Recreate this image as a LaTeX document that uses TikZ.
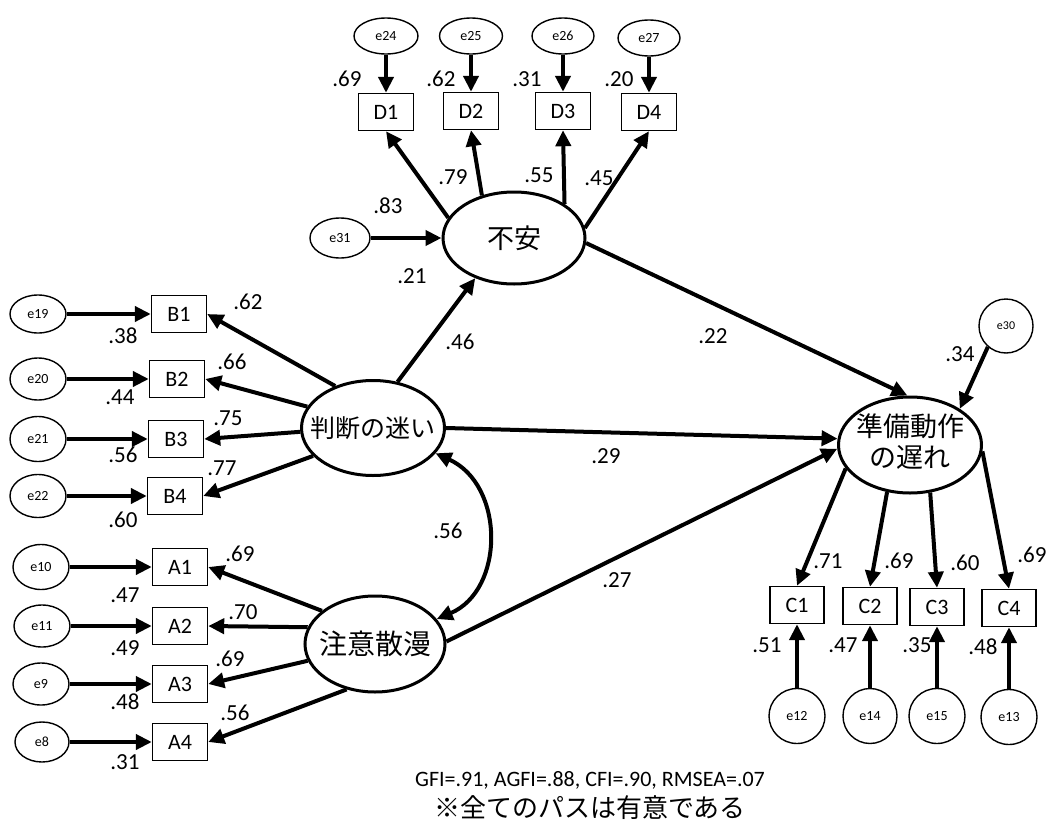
\documentclass[tikz,border=0pt]{standalone}
\usepackage{fontspec}
\setmainfont{Carlito}
\newfontfamily\jpfont{Noto Sans CJK JP}
\usetikzlibrary{shapes.geometric,arrows.meta}
\newcommand\zw[1]{\makebox[0pt]{#1}}

\begin{document}
\begin{tikzpicture}[x=1pt,y=-1pt,
  obsbox/.style={draw,line width=1.4pt,minimum width=55pt,minimum height=37pt,inner sep=0pt,font=\fontsize{22}{22}\selectfont},
  errnode/.style={ellipse,draw,line width=1.4pt,inner sep=0pt,minimum width=56pt,minimum height=40pt,font=\fontsize{14}{14}\selectfont},
  latent/.style={ellipse,draw,line width=3pt,inner sep=0pt},
  coef/.style={inner sep=0pt,font=\fontsize{23}{23}\selectfont},
  link/.style={line width=4pt,-{Triangle[length=16pt,width=15pt]}},
  twoway/.style={line width=4pt,{Triangle[length=16pt,width=15pt]}-{Triangle[length=16pt,width=15pt]}},
]
\useasboundingbox (0,0) rectangle (1050,830);

% ---------- latent variables ----------
\node[latent,minimum width=142pt,minimum height=92pt,font=\jpfont\fontsize{27}{27}\selectfont] (fuan) at (514,238) {\zw{不安}};
\node[latent,minimum width=143pt,minimum height=95pt,font=\jpfont\fontsize{25}{25}\selectfont] (handan) at (373,428) {\zw{判断の迷い}};
\node[latent,minimum width=140pt,minimum height=96pt,font=\jpfont\fontsize{28}{28}\selectfont] (chui) at (375,644) {\zw{注意散漫}};
\node[latent,minimum width=143pt,minimum height=96pt,font=\jpfont\fontsize{27}{31}\selectfont] (junbi) at (910,445)
  {\zw{\begin{tabular}{@{}c@{}}準備動作\\の遅れ\end{tabular}}};

% ---------- D indicators (top) ----------
\node[obsbox] (D1) at (386,112) {D1};
\node[obsbox] (D2) at (471,111) {D2};
\node[obsbox] (D3) at (563,111) {D3};
\node[obsbox] (D4) at (649,112) {D4};
\node[errnode,minimum width=64pt,minimum height=36pt] (e24) at (386,36) {e24};
\node[errnode,minimum width=63pt,minimum height=36pt] (e25) at (471,36) {e25};
\node[errnode,minimum width=62pt,minimum height=36pt] (e26) at (563,36) {e26};
\node[errnode,minimum width=62pt,minimum height=36pt] (e27) at (649,38) {e27};
\node[errnode,minimum width=60pt,minimum height=40pt] (e31) at (340,238) {e31};

% ---------- B indicators ----------
\node[obsbox] (B1) at (179,314) {B1};
\node[obsbox] (B2) at (177,379) {B2};
\node[obsbox] (B3) at (176,439) {B3};
\node[obsbox] (B4) at (175,496) {B4};
\node[errnode,minimum height=38pt] (e19) at (38,314) {e19};
\node[errnode,minimum height=42pt] (e20) at (38,379) {e20};
\node[errnode,minimum height=45pt] (e21) at (38,439) {e21};
\node[errnode,minimum height=43pt] (e22) at (38,496) {e22};

% ---------- A indicators ----------
\node[obsbox] (A1) at (180,567) {A1};
\node[obsbox] (A2) at (180,626) {A2};
\node[obsbox] (A3) at (180,684) {A3};
\node[obsbox] (A4) at (180,742) {A4};
\node[errnode,minimum height=45pt] (e10) at (41,567) {e10};
\node[errnode,minimum height=42pt] (e11) at (42,626) {e11};
\node[errnode,minimum height=42pt] (e9) at (41,684) {e9};
\node[errnode,minimum width=54pt,minimum height=40pt] (e8) at (42,742) {e8};

% ---------- C indicators ----------
\node[obsbox,minimum width=54pt] (C1) at (797,605) {C1};
\node[obsbox,minimum width=54pt] (C2) at (870,606) {C2};
\node[obsbox,minimum width=54pt] (C3) at (937,607) {C3};
\node[obsbox,minimum width=54pt] (C4) at (1009,608) {C4};
\node[errnode,minimum width=56pt,minimum height=55pt] (e12) at (797,716) {e12};
\node[errnode,minimum width=54pt,minimum height=55pt] (e14) at (870,716) {e14};
\node[errnode,minimum width=56pt,minimum height=55pt] (e15) at (937,716) {e15};
\node[errnode,minimum width=56pt,minimum height=55pt] (e13) at (1009,717) {e13};
\node[errnode,minimum width=54pt,minimum height=54pt,font=\fontsize{12}{12}\selectfont] (e30) at (1006,326) {e30};

% ---------- error paths ----------
\draw[link] (e24) -- (D1);
\draw[link] (e25) -- (D2);
\draw[link] (e26) -- (D3);
\draw[link] (e27) -- (D4);
\draw[link] (e31) -- (fuan.west);
\draw[link] (e19) -- (B1);
\draw[link] (e20) -- (B2);
\draw[link] (e21) -- (B3);
\draw[link] (e22) -- (B4);
\draw[link] (e10) -- (A1);
\draw[link] (e11) -- (A2);
\draw[link] (e9) -- (A3);
\draw[link] (e8) -- (A4);
\draw[link] (e12) -- (C1);
\draw[link] (e14) -- (C2);
\draw[link] (e15) -- (C3);
\draw[link] (e13) -- (C4);
\draw[link] (e30.229) -- (junbi.36);

% ---------- loadings ----------
\draw[link] (fuan.163) -- (D1.south);
\draw[link] (fuan.127) -- (D2.south);
\draw[link] (fuan.34) -- (D3.south);
\draw[link] (fuan.8) -- (D4.south);
\draw[link] (handan.132) -- (B1.east);
\draw[link] (handan.162) -- (B2.east);
\draw[link] (handan.183) -- (B3.east);
\draw[link] (handan.205) -- (B4.east);
\draw[link] (chui.148) -- (A1.east);
\draw[link] (chui.166) -- (A2.east);
\draw[link] (chui.194) -- (A3.east);
\draw[link] (chui.238) -- (A4.east);
\draw[link] (junbi.200) -- (C1.north);
\draw[link] (junbi.244) -- (C2.north);
\draw[link] (junbi.293) -- (C3.north);
\draw[link] (junbi.-5) -- (C4.north);

% ---------- structural paths ----------
\draw[link] (handan.62) -- (fuan.-134);
\draw[link] (fuan.-4) -- (junbi.93);
\draw[link] (handan.east) -- (junbi.175);
\draw[link] (chui.2) -- (junbi.183);
\draw[twoway] (handan.-22) .. controls (505,485) and (505,590) .. (chui.22);

% ---------- coefficients ----------
\node[coef] (v-e24) at (347,79) {.69};
\node[coef] (v-e25) at (441,79) {.62};
\node[coef] (v-e26) at (527,79) {.31};
\node[coef] (v-e27) at (619,79) {.20};
\node[coef] (v-d2) at (453,177) {.79};
\node[coef] (v-d3) at (539,175) {.55};
\node[coef] (v-d4) at (599,178) {.45};
\node[coef] (v-d1) at (388,206) {.83};
\node[coef] (v-e31) at (412,276) {.21};
\node[coef] (v-hf) at (460,342) {.46};
\node[coef] (v-fj) at (713,336) {.22};
\node[coef] (v-hj) at (606,456) {.29};
\node[coef] (v-cj) at (617,580) {.27};
\node[coef] (v-hc) at (448,531) {.56};

\node[coef] (v-b1) at (248,302) {.62};
\node[coef] (v-b2) at (232,362) {.66};
\node[coef] (v-b3) at (228,418) {.75};
\node[coef] (v-b4) at (222,468) {.77};
\node[coef] (v-e19) at (123,336) {.38};
\node[coef] (v-e20) at (120,397) {.44};
\node[coef] (v-e21) at (123,455) {.56};
\node[coef] (v-e22) at (123,520) {.60};

\node[coef] (v-a1) at (240,554) {.69};
\node[coef] (v-a2) at (243,612) {.70};
\node[coef] (v-a3) at (230,659) {.69};
\node[coef] (v-a4) at (235,713) {.56};
\node[coef] (v-e10) at (125,595) {.47};
\node[coef] (v-e11) at (125,648) {.49};
\node[coef] (v-e9) at (125,702) {.48};
\node[coef] (v-e8) at (125,762) {.31};

\node[coef] (v-e30) at (960,354) {.34};
\node[coef] (v-c1) at (828,561) {.71};
\node[coef] (v-c2) at (899,561) {.69};
\node[coef] (v-c3) at (965,563) {.60};
\node[coef] (v-c4) at (1032,555) {.69};
\node[coef] (v-e12) at (767,645) {.51};
\node[coef] (v-e14) at (843,645) {.47};
\node[coef] (v-e15) at (917,645) {.35};
\node[coef] (v-e13) at (983,647) {.48};

% ---------- fit indices ----------
\node[inner sep=0pt,font=\fontsize{22}{22}\selectfont] (fit) at (590,780) {GFI=.91, AGFI=.88, CFI=.90, RMSEA=.07};
\node[inner sep=0pt,font=\jpfont\fontsize{26}{26}\selectfont] (note) at (590,808) {※全てのパスは有意である};
\end{tikzpicture}
\end{document}
